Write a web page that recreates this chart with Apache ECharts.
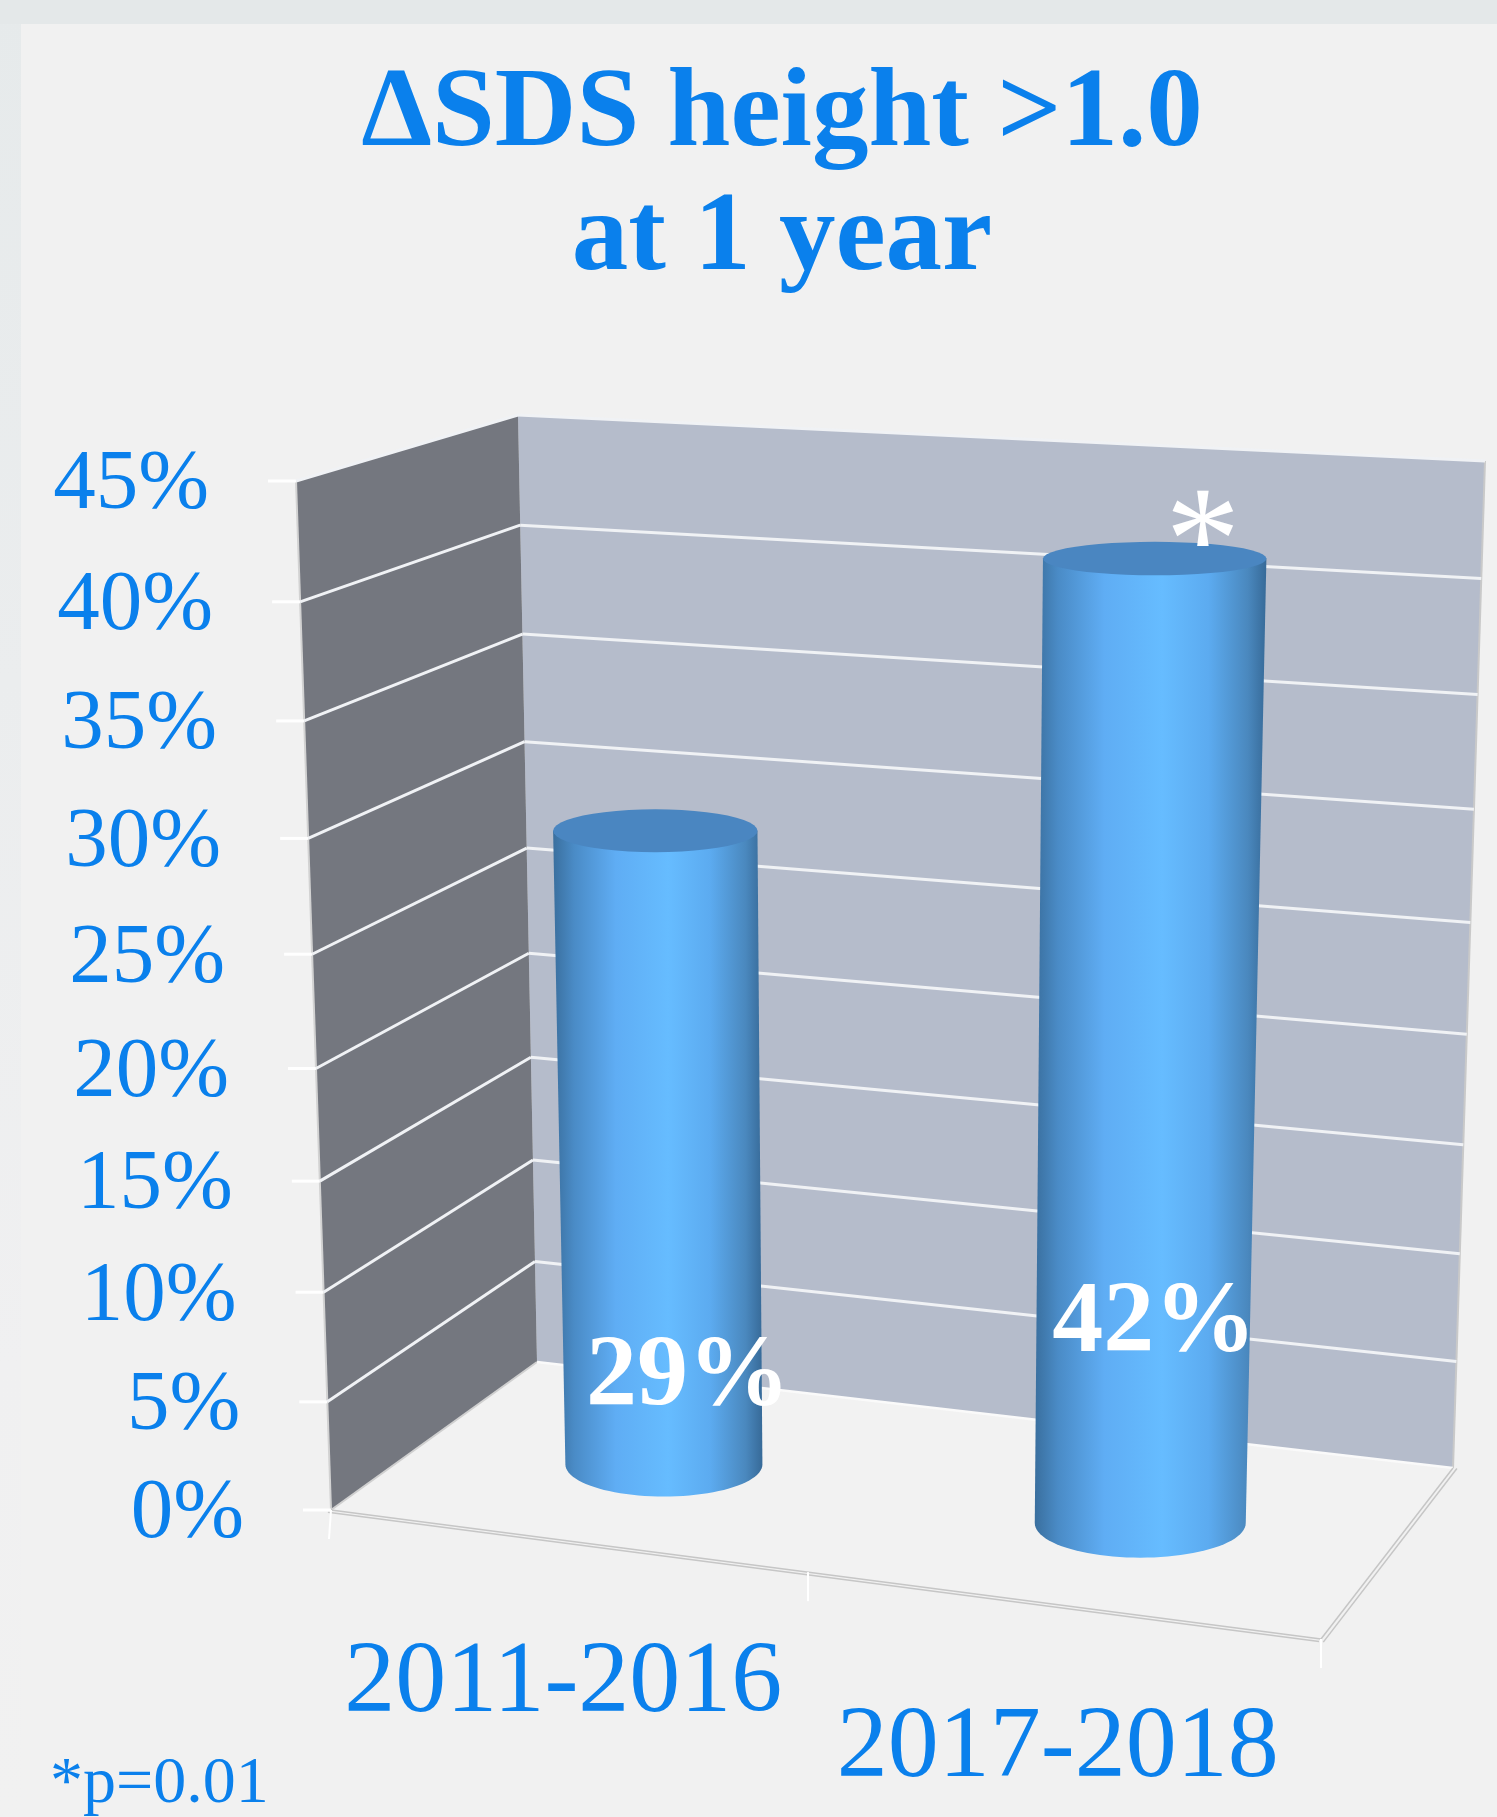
<!DOCTYPE html>
<html lang="en">

<head>
  <meta charset="UTF-8">
  <title>ΔSDS height >1.0 at 1 year</title>
  <style>
    html,
    body {
      margin: 0;
      padding: 0;
      background: #f1f1f1;
    }

    #chart {
      width: 1497px;
      height: 1817px;
    }
  </style>
</head>

<body>
  <div id="chart"></div>
  <script src="https://cdn.jsdelivr.net/npm/echarts@6/dist/echarts.min.js"></script>
  <script>
    var categories = ['2011-2016', '2017-2018']
    var percentValues = [29, 42]
    var dataLabels = ['29%', '42%']
    var markers = ['', '*']
    var tickValues = [0, 5, 10, 15, 20, 25, 30, 35, 40, 45]
    var tickLabels = ['0%', '5%', '10%', '15%', '20%', '25%', '30%', '35%', '40%', '45%']
    var titleLines = ['ΔSDS height >1.0', 'at 1 year']
    var footnote = '*p=0.01'

    var SERIF = '"Liberation Serif", serif'
    var BLUE = '#0a80ec'

    // corners of the box in page pixels: [bottom-left, bottom-right, top-right, top-left]
    var backPlane = [[537, 1362], [1453, 1468], [1485, 461], [518, 415]]
    var frontPlane = [[331, 1510], [1321, 1639], [1352, 536], [296, 481]]

    // cylinder radius, as a share of box width and box depth
    var barRadiusU = 0.107
    var barRadiusD = 0.21
    // cylinders sit a little right of the category centre
    var barShiftU = 0.004
    // data label offset from the foot of each cylinder
    var labelOffsets = [[24, -86], [14, -198]]

    // unit square -> quad
    function makeHomography(q) {
      var x0 = q[0][0], y0 = q[0][1], x1 = q[1][0], y1 = q[1][1]
      var x2 = q[2][0], y2 = q[2][1], x3 = q[3][0], y3 = q[3][1]
      var dx1 = x1 - x2, dx2 = x3 - x2, sx = x0 - x1 + x2 - x3
      var dy1 = y1 - y2, dy2 = y3 - y2, sy = y0 - y1 + y2 - y3
      var den = dx1 * dy2 - dx2 * dy1
      var g = (sx * dy2 - dx2 * sy) / den
      var h = (dx1 * sy - sx * dy1) / den
      var a = x1 - x0 + g * x1, b = x3 - x0 + h * x3
      var d = y1 - y0 + g * y1, e = y3 - y0 + h * y3
      return function (u, v) {
        var w = g * u + h * v + 1
        return [(a * u + b * v + x0) / w, (d * u + e * v + y0) / w]
      }
    }
    var backMap = makeHomography(backPlane)
    var frontMap = makeHomography(frontPlane)

    // u: along the category axis, v: up the value axis, d: 0 back wall .. 1 front
    function project(u, v, d) {
      var b = backMap(u, v), f = frontMap(u, v)
      return [b[0] + (f[0] - b[0]) * d, b[1] + (f[1] - b[1]) * d]
    }

    // the hidden cartesian grid gives the scale, the result is then pushed into the box
    function toUnit(params, pt) {
      var cs = params.coordSys
      return [(pt[0] - cs.x) / cs.width, (cs.y + cs.height - pt[1]) / cs.height]
    }

    function line(p, q, color, width) {
      return {
        type: 'line',
        shape: { x1: p[0], y1: p[1], x2: q[0], y2: q[1] },
        style: { stroke: color, lineWidth: width }
      }
    }

    function poly(points, fill) {
      return { type: 'polygon', shape: { points: points }, style: { fill: fill } }
    }

    function text(str, x, y, size, opts) {
      opts = opts || {}
      return {
        type: 'text',
        x: x,
        y: y,
        style: {
          text: str,
          font: (opts.bold ? 'bold ' : '') + size + 'px ' + SERIF,
          fill: opts.color || BLUE,
          align: opts.align || 'center',
          verticalAlign: 'middle'
        }
      }
    }

    function renderBox() {
      return {
        type: 'group',
        children: [
          poly([project(0, 0, 0), project(1, 0, 0), project(1, 0, 1), project(0, 0, 1)], '#f2f2f2'),
          poly([project(0, 0, 0), project(1, 0, 0), project(1, 1, 0), project(0, 1, 0)], '#b5bccb'),
          poly([project(0, 0, 1), project(0, 0, 0), project(0, 1, 0), project(0, 1, 1)], '#74777f'),
          // outer edges
          line(project(0, 0, 1), project(0, 1, 1), '#d2d2d2', 2),
          line(project(1, 0, 0), project(1, 1, 0), '#c9c9c9', 2),
          line(project(0, 0, 0), project(0, 0, 1), '#d0d0d0', 2),
          line(project(0, 0, 0), project(1, 0, 0), '#fafafa', 2.5),
          line(project(0, 0, 1), project(1, 0, 1), '#c6c6c6', 1.5),
          line(project(0, 0, 1.015), project(1, 0, 1.015), '#c6c6c6', 1.5),
          line(project(1, 0, 0), project(1, 0, 1), '#c6c6c6', 1.5),
          line(project(1.004, 0, 0), project(1.004, 0, 1.015), '#c6c6c6', 1.5),
          // category ticks
          line(project(0, 0, 1), [project(0, 0, 1)[0] - 2, project(0, 0, 1)[1] + 29], '#ffffff', 2),
          line(project(0.5, 0, 1), [project(0.5, 0, 1)[0], project(0.5, 0, 1)[1] + 29], '#ffffff', 2),
          line(project(1, 0, 1), [project(1, 0, 1)[0], project(1, 0, 1)[1] + 29], '#ffffff', 2)
        ]
      }
    }

    function renderTick(params, api) {
      var val = api.value(0)
      var v = toUnit(params, api.coord([0, val]))[1]
      var corner = project(0, v, 1)
      var items = [line([corner[0] - 28, corner[1]], corner, '#ffffff', 3)]
      if (val > 0) {
        items.push(line(corner, project(0, v, 0), '#f0f2f5', 3))
        items.push(line(project(0, v, 0), project(1, v, 0), '#f0f2f5', 3))
      }
      items.push(text(tickLabels[params.dataIndex], corner[0] - 87, corner[1] + 5, 85, { align: 'right' }))
      return { type: 'group', children: items }
    }

    // half axes of the upright ellipse the cylinder shows at height v
    function ellipseAt(u, v) {
      var c = project(u, v, 0.5)
      var rx = (project(u + barRadiusU, v, 0.5)[0] - project(u - barRadiusU, v, 0.5)[0]) / 2
      var ry = (project(u, v, 0.5 + barRadiusD)[1] - project(u, v, 0.5 - barRadiusD)[1]) / 2
      return { x: c[0], y: c[1], rx: rx, ry: ry }
    }

    function arc(e, from, to) {
      var pts = []
      for (var k = 0; k <= 48; k++) {
        var t = from + (to - from) * k / 48
        pts.push([e.x + e.rx * Math.cos(t), e.y + e.ry * Math.sin(t)])
      }
      return pts
    }

    function renderBar(params, api) {
      var i = params.dataIndex
      var top = toUnit(params, api.coord([i, api.value(1)]))
      var u = top[0] + barShiftU, v = top[1]
      var head = ellipseAt(u, v)
      var foot = ellipseAt(u, 0)
      var off = labelOffsets[i]
      return {
        type: 'group',
        children: [
          {
            type: 'polygon',
            shape: { points: [[head.x + head.rx, head.y], [head.x - head.rx, head.y]].concat(arc(foot, Math.PI, 0)) },
            style: {
              fill: new echarts.graphic.LinearGradient(0, 0, 1, 0, [
                { offset: 0, color: '#3a6f9e' },
                { offset: 0.1, color: '#4a8bc6' },
                { offset: 0.3, color: '#5fadf4' },
                { offset: 0.55, color: '#66bcff' },
                { offset: 0.75, color: '#5cabf0' },
                { offset: 0.92, color: '#4a88be' },
                { offset: 1, color: '#376a98' }
              ])
            }
          },
          poly(arc(head, 0, Math.PI * 2), '#4a86c1'),
          text(dataLabels[i], foot.x + off[0], foot.y + off[1], 102, { bold: true, color: '#ffffff' }),
          text(markers[i], head.x + 48, head.y - 9, 150, { color: '#ffffff' })
        ]
      }
    }

    function renderCategory(params, api) {
      var i = params.dataIndex
      var u = toUnit(params, api.coord([i, 0]))[0]
      var edge = project(u, 0, 1)
      return text(categories[i], edge[0] - 2, edge[1] + 144, 102)
    }

    var chart = echarts.init(document.getElementById('chart'))
    var option = {
      animation: false,
      backgroundColor: '#f1f1f1',
      title: {
        text: titleLines.join('\n'),
        left: 777,
        top: 49,
        textAlign: 'center',
        textStyle: {
          fontFamily: SERIF,
          fontWeight: 'bold',
          fontSize: 113,
          lineHeight: 124,
          color: BLUE
        }
      },
      graphic: [
        {
          type: 'rect',
          z: -1,
          shape: { x: 0, y: 0, width: 21, height: 1817 },
          style: {
            fill: new echarts.graphic.LinearGradient(0, 0, 0, 1, [
              { offset: 0, color: '#e6eaeb' },
              { offset: 0.75, color: '#f0f0f1' },
              { offset: 1, color: '#f1f1f1' }
            ])
          }
        },
        {
          type: 'rect',
          z: -1,
          shape: { x: 0, y: 0, width: 1497, height: 24 },
          style: { fill: '#e4e8e9' }
        },
        {
          type: 'text',
          left: 50,
          top: 1752,
          style: { text: footnote, font: '66px ' + SERIF, fill: BLUE }
        }
      ],
      grid: { left: 518, top: 415, width: 967, height: 947 },
      xAxis: { type: 'category', data: categories, show: false },
      yAxis: { type: 'value', min: 0, max: 45, interval: 5, show: false },
      series: [
        {
          type: 'custom',
          coordinateSystem: 'cartesian2d',
          silent: true,
          z: 1,
          clip: false,
          data: [[0, 0]],
          renderItem: renderBox
        },
        {
          type: 'custom',
          coordinateSystem: 'cartesian2d',
          silent: true,
          z: 2,
          clip: false,
          encode: { y: 0 },
          data: tickValues.map(function (v) { return [v] }),
          renderItem: renderTick
        },
        {
          type: 'custom',
          coordinateSystem: 'cartesian2d',
          silent: true,
          z: 3,
          clip: false,
          encode: { x: 0, y: 1 },
          data: percentValues.map(function (v, i) { return [i, v] }),
          renderItem: renderBar
        },
        {
          type: 'custom',
          coordinateSystem: 'cartesian2d',
          silent: true,
          z: 4,
          clip: false,
          encode: { x: 0, y: 1 },
          data: categories.map(function (c, i) { return [i, 0] }),
          renderItem: renderCategory
        }
      ]
    }
    chart.setOption(option)
  </script>
</body>

</html>
